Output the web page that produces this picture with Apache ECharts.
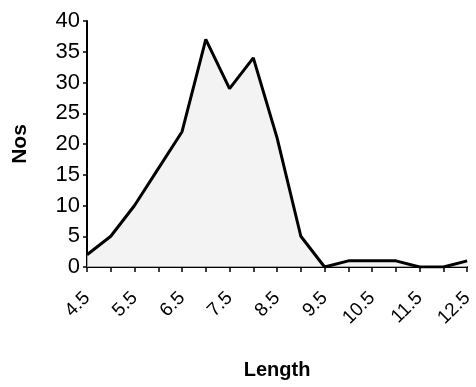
<!DOCTYPE html>
<html lang="en">
<head>
    <meta charset="UTF-8">
    <title>Nos by Length</title>
    <script src="https://cdnjs.cloudflare.com/ajax/libs/echarts/6.0.0/echarts.min.js"></script>
    <style>
        html, body { margin: 0; padding: 0; background: #fff; }
    </style>
</head>
<body>
    <div id="chart" style="width: 476px; height: 387px;"></div>

    <script>
        // Length classes and counts
        const lengths = ['4.5', '5', '5.5', '6', '6.5', '7', '7.5', '8', '8.5', '9',
                         '9.5', '10', '10.5', '11', '11.5', '12', '12.5'];
        const counts = [2, 5, 10, 16, 22, 37, 29, 34, 21, 5, 0, 1, 1, 1, 0, 0, 1];
        const yTicks = [0, 40, 5];   // min, max, step

        const font = '"Liberation Sans", Arial, sans-serif';
        const narrow = '"Liberation Sans Narrow", "Liberation Sans", Arial, sans-serif';

        const chart = echarts.init(document.getElementById('chart'));

        chart.setOption({
            animation: false,
            grid: { left: 87, right: 4, top: 21, bottom: 120 },
            xAxis: {
                type: 'category',
                data: lengths,
                boundaryGap: false,
                name: 'Length',
                nameLocation: 'middle',
                nameGap: 93,
                nameTextStyle: { color: '#000', fontFamily: narrow, fontSize: 20, fontWeight: 'bold' },
                axisLine: { lineStyle: { color: '#000', width: 2 } },
                axisTick: { interval: 0, length: 5, lineStyle: { color: '#000', width: 1.5 } },
                axisLabel: {
                    interval: 1,
                    rotate: 45,
                    margin: 28,
                    color: '#000',
                    fontFamily: font,
                    fontSize: 19
                }
            },
            yAxis: {
                type: 'value',
                min: yTicks[0],
                max: yTicks[1],
                interval: yTicks[2],
                name: 'Nos',
                nameLocation: 'middle',
                nameGap: 56,
                nameTextStyle: { color: '#000', fontFamily: font, fontSize: 21, fontWeight: 'bold' },
                axisLine: { show: true, lineStyle: { color: '#000', width: 2 } },
                axisTick: { show: true, length: 4, lineStyle: { color: '#000', width: 1.5 } },
                splitLine: { show: false },
                axisLabel: {
                    margin: 7,
                    color: '#000',
                    fontFamily: font,
                    fontSize: 22
                }
            },
            series: [{
                name: 'Nos',
                type: 'line',
                data: counts,
                symbol: 'none',
                lineStyle: { color: '#000', width: 3 },
                areaStyle: { color: '#eeeeee' }
            }]
        });
    </script>
</body>
</html>
